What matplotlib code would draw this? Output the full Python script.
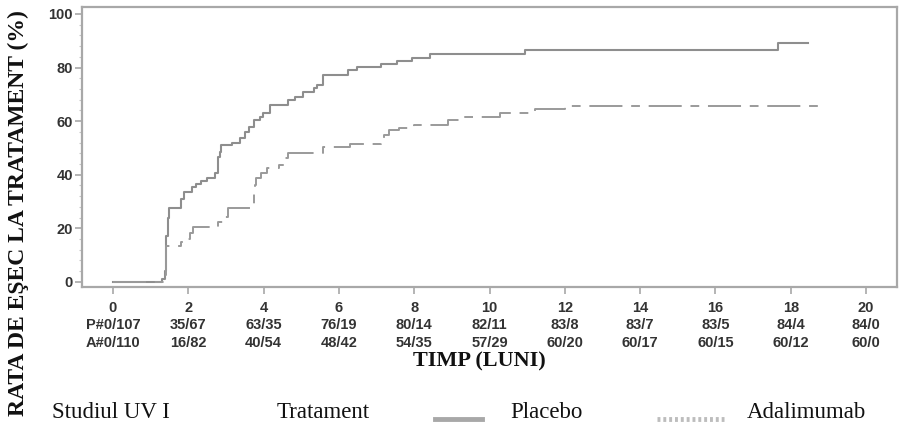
import matplotlib
matplotlib.use('Agg')
import matplotlib.pyplot as plt
from matplotlib.lines import Line2D

# Kaplan-Meier style step curves (months, % failure)
placebo_t = [0, 1.30, 1.38, 1.42, 1.46, 1.50, 1.82, 1.88, 2.09, 2.20, 2.34, 2.51, 2.71, 2.80,
             2.84, 2.88, 3.15, 3.38, 3.50, 3.62, 3.75, 3.90, 3.99, 4.17, 4.66, 4.84, 5.06,
             5.33, 5.42, 5.59, 6.25, 6.47, 7.12, 7.55, 7.95, 8.42, 10.94, 17.66, 18.46]
placebo_v = [0, 1, 4, 17, 24, 27.5, 31, 33.7, 35.3, 36.5, 37.8, 38.8, 40.5, 46.8,
             48.6, 51, 52, 53.7, 56, 58, 60.4, 61.7, 63, 66, 67.9, 69.1, 71,
             72.3, 73.5, 77.2, 79.1, 80.3, 81.2, 82.3, 83.5, 85, 86.5, 89.3, 89.3]

ada_t = [0, 1.42, 1.82, 1.96, 2.05, 2.14, 2.80, 2.93, 3.06, 3.65, 3.74, 3.77, 3.80, 3.93,
         4.08, 4.40, 4.57, 4.66, 5.59, 6.30, 7.12, 7.20, 7.34, 7.60, 8.00, 8.90, 9.26,
         10.28, 11.20, 12.00, 18.73]
ada_v = [0, 13.5, 14.8, 16, 18.4, 20.6, 22.5, 24.4, 27.5, 28.7, 33.7, 36.2, 38.7, 40.5,
         42.4, 43.7, 46.2, 48, 50.2, 51.5, 53, 54.8, 56.7, 57.6, 58.6, 60.3, 61.4,
         62.9, 64.4, 65.7, 65.7]

months = [0, 2, 4, 6, 8, 10, 12, 14, 16, 18, 20]
at_risk_p = ['P#0/107', '35/67', '63/35', '76/19', '80/14', '82/11', '83/8', '83/7', '83/5', '84/4', '84/0']
at_risk_a = ['A#0/110', '16/82', '40/54', '48/42', '54/35', '57/29', '60/20', '60/17', '60/15', '60/12', '60/0']

narrow = ['Liberation Sans Narrow', 'Liberation Sans', 'DejaVu Sans']
serif = ['Liberation Serif', 'DejaVu Serif']
grey = '#8e8e8e'
frame = '#a8a8a8'

W, H = 905, 424
fig = plt.figure(figsize=(W / 100, H / 100), dpi=100)
ax = fig.add_axes([82 / W, (H - 287) / H, (897 - 82) / W, (287 - 7) / H])

ax.step(placebo_t, placebo_v, where='post', color=grey, lw=1.5)
ax.step(ada_t, ada_v, where='post', color='#9a9a9a', lw=1.4,
        linestyle=(0, (17, 4.5, 4.5, 4.5)))

ax.set_xlim(-0.82, 20.82)
ax.set_ylim(-1.9, 102.6)

for s in ax.spines.values():
    s.set_color(frame)
    s.set_linewidth(1.6)

ax.set_xticks(months)
ax.set_xticklabels([f'{m}\n{p}\n{a}' for m, p, a in zip(months, at_risk_p, at_risk_a)],
                   family=narrow, fontsize=10.5, fontweight='bold', color='#333333',
                   linespacing=1.32)
ax.set_yticks(range(0, 101, 20))
ax.set_yticklabels([str(v) for v in range(0, 101, 20)], family=narrow,
                   fontsize=10.5, fontweight='bold', color='#333333')
ax.set_yticks(range(0, 101, 4), minor=True)
ax.tick_params(axis='both', which='major', color=frame, length=5, width=1.2, direction='out')
ax.tick_params(axis='x', pad=5)
ax.tick_params(axis='y', pad=1.5)
ax.tick_params(axis='y', which='minor', color='#c8c8c8', length=2.5, width=0.8)

fig.text(479 / W, (H - 361) / H, 'TIMP (LUNI)', family=serif, fontweight='bold',
         fontsize=16, ha='center', va='center', color='#111111')
fig.text(18 / W, (H - 213) / H, 'RATA DE EŞEC LA TRATAMENT (%)', family=serif,
         fontweight='bold', fontsize=17, rotation=90, ha='center', va='center',
         color='#111111')

# legend row at the bottom
base = (H - 418) / H
fig.text(52 / W, base, 'Studiul UV I', family=serif, fontsize=16.5, va='baseline', color='#111111')
fig.text(277 / W, base, 'Tratament', family=serif, fontsize=16.5, va='baseline', color='#111111')
fig.text(510 / W, base, 'Placebo', family=serif, fontsize=16.5, va='baseline', color='#111111')
fig.text(747 / W, base, 'Adalimumab', family=serif, fontsize=16.5, va='baseline', color='#111111')
ly = (H - 419) / H
fig.add_artist(Line2D([435 / W, 482 / W], [ly, ly], color='#a8a8a8', lw=3.5))
fig.add_artist(Line2D([657 / W, 724 / W], [ly, ly], color='#bdbdbd', lw=3.5,
                      linestyle=(0, (0.6, 0.6))))

fig.savefig('out.png', dpi=100)
